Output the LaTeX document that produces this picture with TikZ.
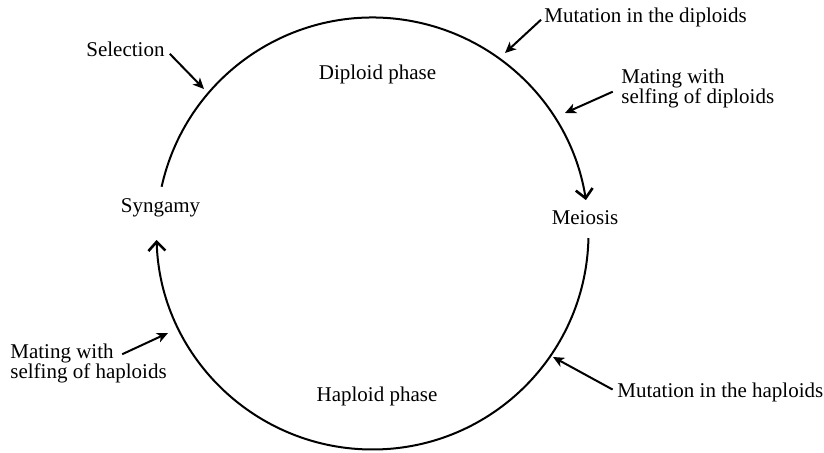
\documentclass[tikz,border=0pt]{standalone}
\usepackage{fontspec}
\setmainfont{Liberation Serif}
\usetikzlibrary{arrows.meta}
\begin{document}
\begin{tikzpicture}
    [x=0.5pt, y=0.5pt,
 txt/.style ={inner sep=0pt, font=\fontsize{10.5}{10}\selectfont},
 line/.style ={draw, line width=1pt, -{Stealth[length=5.5pt,width=5pt,inset=1.5pt]}},
 ring/.style ={draw, line width=1pt, -{Straight Barb[length=4.5pt,width=8.5pt,line width=1.3pt]}}]
        \useasboundingbox (0, 0) rectangle (824, 452);
        \coordinate (ctr) at (372.5, 218.5);
        \node[txt, anchor=base] (syn) at (160.5, 240) {Syngamy};
        \node[txt, anchor=base] (mei) at (585, 228) {Meiosis};
        \node[txt, anchor=base] (dip) at (377.5, 373) {Diploid phase};
        \node[txt, anchor=base] (hap) at (377, 51) {Haploid phase};
        \draw[ring] (ctr) ++(167.5:216) arc[start angle=167.5, end angle=8.9, radius=108pt];
        \draw[ring] (ctr) ++(-1.2:216) arc[start angle=-1.2, end angle=-178.3, radius=108pt];
        \node[txt, anchor=base west] (sel) at (86, 396) {Selection};
        \node[txt, anchor=base west] (mutd) at (544, 430) {Mutation in the diploids};
        \node[txt, anchor=west, align=left] (matd) at (621, 364) {Mating with\\selfing of diploids};
        \node[txt, anchor=base west] (muth) at (617, 55) {Mutation in the haploids};
        \node[txt, anchor=base west] (mathtop) at (10, 94) {Mating with};
        \node[txt, anchor=base west] (mathbot) at (10, 74) {selfing of haploids};
        \coordinate (selpt) at (204, 363);
        \coordinate (mutdpt) at (505, 399);
        \coordinate (matdpt) at (565, 339);
        \coordinate (muthpt) at (553, 95);
        \coordinate (mathpt) at (168, 119);
        \draw[line, shorten <=3.5pt] (sel.east) -- (selpt);
        \draw[line, shorten <=2pt] (mutd.west) -- (mutdpt);
        \draw[line, shorten <=4.5pt] (matd.west) -- (matdpt);
        \draw[line, shorten <=2.5pt] (muth.west) -- (muthpt);
        \draw[line, shorten <=4.5pt] (mathtop.base east) -- (mathpt);
    \end{tikzpicture}
\end{document}
